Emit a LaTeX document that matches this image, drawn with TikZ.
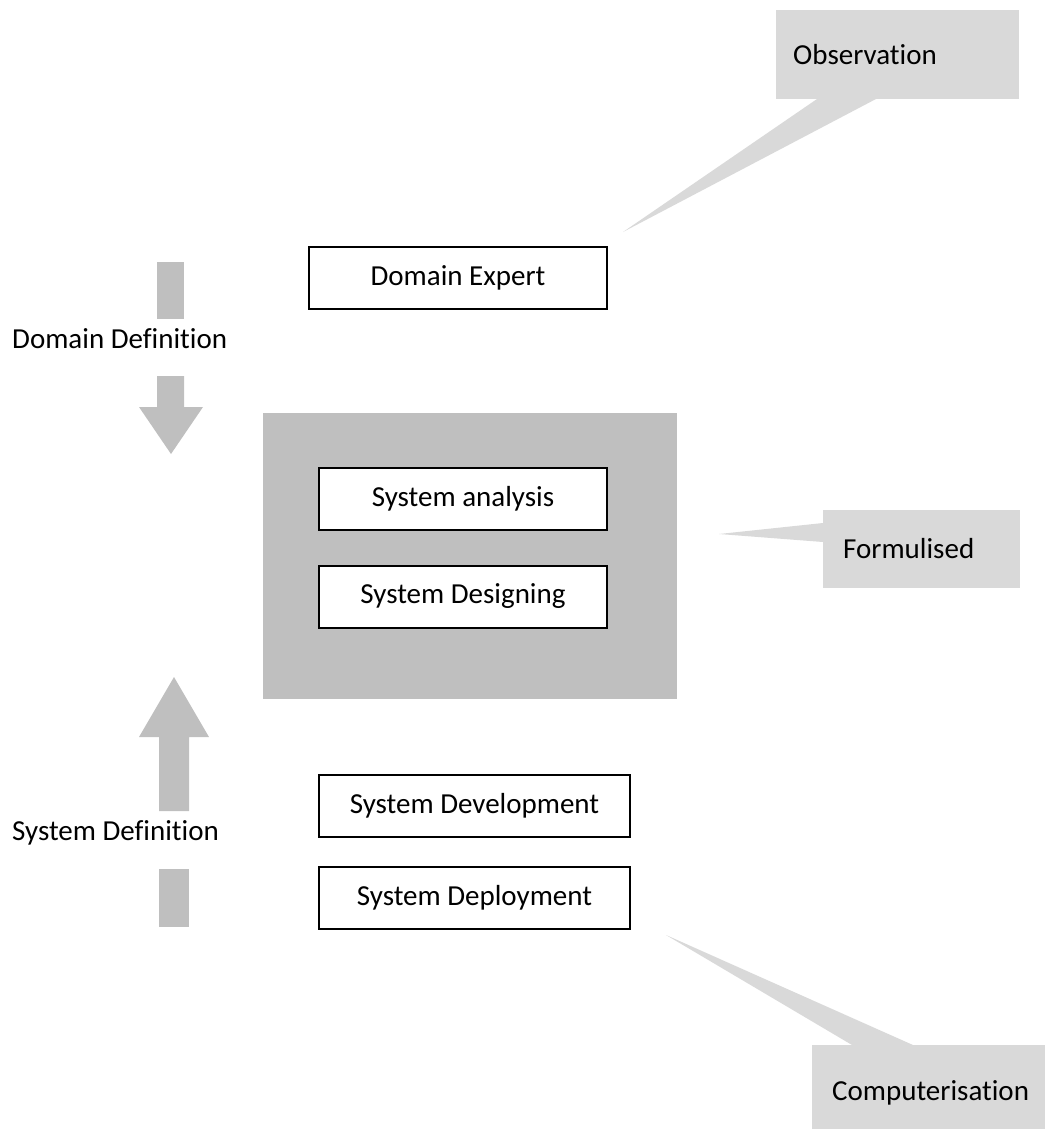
\documentclass[tikz,border=0pt]{standalone}
\usepackage{fontspec}
\setmainfont{Carlito}[Ligatures=NoCommon]
\begin{document}
\begin{tikzpicture}[x=1pt,y=-1pt,
  every node/.style={font=\fontsize{29pt}{34pt}\selectfont, inner sep=0pt},
  stagebox/.style={draw=black, line width=2pt, fill=white, minimum height=62pt},
  calloutfill/.style={fill=calloutgray, draw=none},
  arrowfill/.style={fill=arrowgray, draw=none}]
\definecolor{calloutgray}{HTML}{D9D9D9}
\definecolor{arrowgray}{HTML}{BFBFBF}
\useasboundingbox (0,0) rectangle (1045,1129);

% shaded area holding analysis and design
\fill[arrowgray] (263,413) rectangle (677,699);

% stage boxes
\node[stagebox, minimum width=298pt] (expert) at (458,278) {Domain Expert};
\node[stagebox, minimum width=288pt] (analysis) at (463,498.5) {System analysis};
\node[stagebox, minimum width=288pt] (design) at (463,596.5) {System Designing};
\node[stagebox, minimum width=311pt] (develop) at (474.5,806) {System Development};
\node[stagebox, minimum width=311pt] (deploy) at (474.5,898) {System Deployment};

% left-hand flow arrows
\fill[arrowfill] (157,262) rectangle (184,319);
\node[anchor=base west] (domdef) at (12,348) {Domain Definition};
\fill[arrowfill] (157,376) -- (184,376) -- (184,407) -- (203,407) -- (171,454)
  -- (139,407) -- (157,407) -- cycle;

\fill[arrowfill] (174,677) -- (209,737) -- (189,737) -- (189,811) -- (159,811)
  -- (159,737) -- (139,737) -- cycle;
\node[anchor=base west] (sysdef) at (12,840) {System Definition};
\fill[arrowfill] (159,869) rectangle (189,927);

% callouts
\fill[calloutgray] (776,10) rectangle (1019,99);
\coordinate (obstip) at (623,232);
\fill[calloutfill] (817,99) -- (876,99) -- (obstip) -- cycle;
\node[anchor=base west] (obs) at (793,65) {Observation};

\fill[calloutgray] (823,510) rectangle (1020,588);
\coordinate (formtip) at (719,534);
\fill[calloutfill] (823,523) -- (823,542) -- (formtip) -- cycle;
\node[anchor=base west] (form) at (843,558) {Formulised};

\fill[calloutgray] (812,1045) rectangle (1045,1129);
\coordinate (comptip) at (666,935);
\fill[calloutfill] (852,1045) -- (913,1045) -- (comptip) -- cycle;
\node[anchor=base west] (comp) at (832,1100) {Computerisation};
\end{tikzpicture}
\end{document}
